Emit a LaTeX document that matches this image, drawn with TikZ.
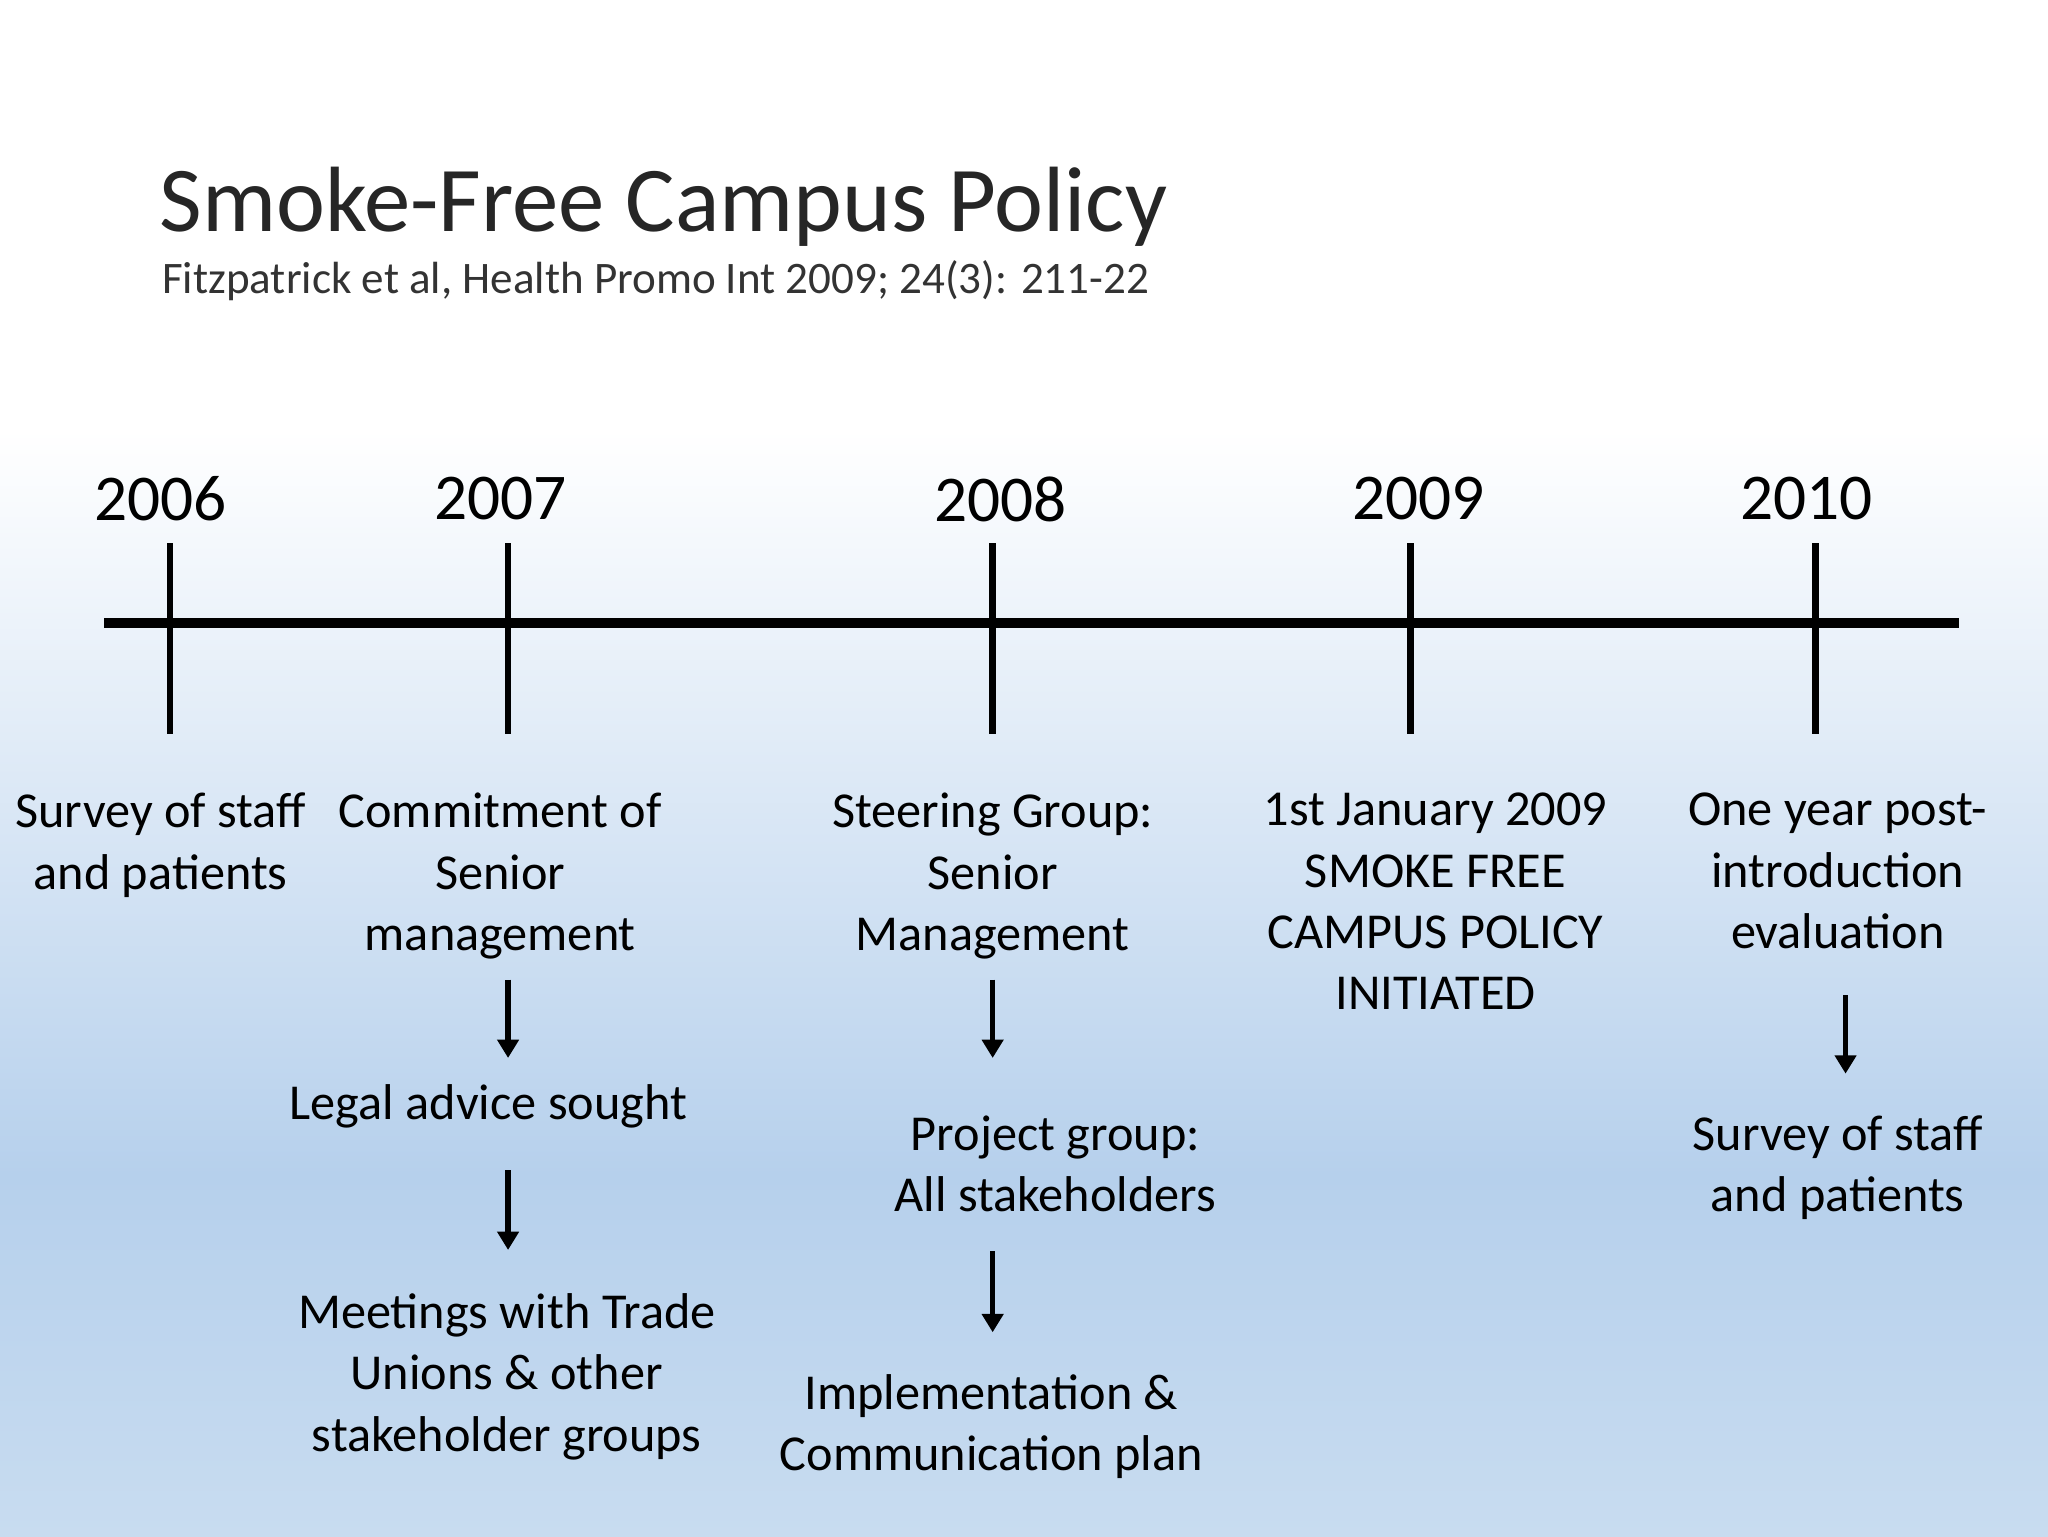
\documentclass[tikz,border=0pt]{standalone}
\usepackage{fontspec}
\setmainfont{Carlito}
\usetikzlibrary{arrows.meta}
\begin{document}
\begin{tikzpicture}[x=1pt,y=-1pt,
  body/.style={align=center,inner sep=0pt,anchor=north,font=\fontsize{38.5}{47}\selectfont,text depth=0pt},
  year/.style={inner sep=0pt,font=\fontsize{50}{52}\selectfont},
  tick/.style={line width=5pt},
  arr/.style={line width=4pt,-{Triangle[length=14pt,width=16pt]}}]
\useasboundingbox (0,0) rectangle (1568,1176);
\fill[white] (0,0) rectangle (1568,330);
\shade[top color=white,bottom color={rgb,255:red,182;green,208;blue,236}] (0,329) rectangle (1568,900);
\shade[top color={rgb,255:red,182;green,208;blue,236},bottom color={rgb,255:red,200;green,220;blue,240}] (0,899) rectangle (1568,1176);
\node[anchor=west,inner sep=0pt,font=\fontsize{71}{76}\selectfont,text=black!85] (title) at (122,158) {Smoke-Free Campus Policy};
\node[anchor=west,inner sep=0pt,font=\fontsize{34.5}{38}\selectfont,text=black!80] (sub) at (124,215) {Fitzpatrick et al, Health Promo Int 2009; 24(3): 211-22};
\draw[line width=8pt] (80,477) coordinate (l0) -- (1500,477) coordinate (l1);
\foreach \n/\x/\yx/\yr in {a/130/123/2006,b/389/383/2007,c/760/766/2008,d/1080/1086/2009,e/1390/1383/2010}{
  \draw[tick] (\x,416) coordinate (\n t) -- (\x,562) coordinate (\n b);
  \node[year] (y\n) at (\yx,382) {\yr};
}
\node[body] (s1) at (123,607) {Survey of staff\\and patients};
\node[body] (c1) at (383,607) {Commitment of\\Senior\\management};
\node[body] (st) at (760,607) {Steering Group:\\Senior\\Management};
\node[body] (jan) at (1099,607) {1st January 2009\\SMOKE FREE\\CAMPUS POLICY\\INITIATED};
\node[body] (one) at (1407,607) {One year post-\\introduction\\evaluation};
\node[body] (legal) at (374,830) {Legal advice sought};
\node[body] (meet) at (388,990) {Meetings with Trade\\Unions \& other\\stakeholder groups};
\node[body] (proj) at (808,854) {Project group:\\All stakeholders};
\node[body] (impl) at (759,1052) {Implementation \&\\Communication plan};
\node[body] (s2) at (1407,854) {Survey of staff\\and patients};
\coordinate (p1) at (389,750); \coordinate (q1) at (389,810);
\coordinate (p2) at (389,896); \coordinate (q2) at (389,957);
\coordinate (p3) at (760,750); \coordinate (q3) at (760,810);
\coordinate (p4) at (760,958); \coordinate (q4) at (760,1020);
\coordinate (p5) at (1413,762); \coordinate (q5) at (1413,822);
\foreach \i in {1,...,5}{\draw[arr] (p\i) -- (q\i);}
\end{tikzpicture}
\end{document}
